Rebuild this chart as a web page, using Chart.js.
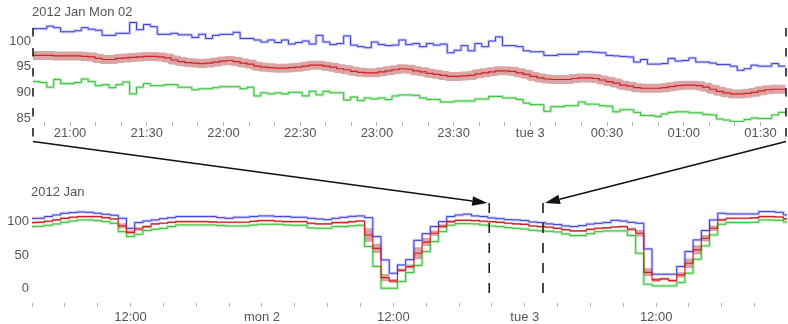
<!DOCTYPE html>
<html><head><meta charset="utf-8">
<script src="https://cdn.jsdelivr.net/npm/chart.js@4.4.1/dist/chart.umd.min.js"></script>
<style>
html,body{margin:0;padding:0;background:#fff;}
#wrap{position:relative;width:788px;height:324px;overflow:hidden;background:#fff;}
canvas{position:absolute;left:0;}
</style></head><body>
<div id="wrap">
<canvas id="topC" width="788" height="150" style="top:0px"></canvas>
<canvas id="botC" width="788" height="154" style="top:170px"></canvas>
<canvas id="ovC" width="788" height="324" style="top:0px;pointer-events:none"></canvas>
</div>
<script>
// ---------- top (zoomed) chart data: minutes from 2012-01-02 00:00 ----------
const topTitle = '2012 Jan Mon 02';
const topStart = 1245.5, topStep = 2.7, topEnd = 1540;
const topBlue = [102.4,102.4,102.9,102.6,101.8,101.8,102.0,102.6,102.3,102.1,
 101.1,101.1,101.5,101.5,103.6,102.2,103.2,102.8,101.3,101.3,
 101.5,101.2,101.2,100.7,101.3,100.5,101.1,101.3,101.3,101.7,
 100.5,100.5,100.2,99.8,100.2,99.7,100.2,99.4,99.7,100.0,
 99.4,101.1,99.8,99.3,99.5,101.0,99.2,98.9,98.7,99.8,
 99.3,99.1,99.2,100.2,99.3,99.5,98.9,99.5,99.2,99.4,
 97.7,98.2,99.1,98.1,99.5,98.9,100.0,100.8,99.1,99.1,
 98.9,98.1,97.9,97.9,97.2,97.2,97.4,97.4,97.4,97.9,
 97.9,97.8,97.7,97.2,97.1,97.0,96.9,95.9,96.4,95.5,
 95.5,95.6,96.6,96.1,96.2,96.7,95.9,95.9,95.7,95.4,
 95.4,95.1,94.3,94.6,95.3,95.1,95.1,95.6,95.1];
const topRed = [97.2,97.2,97.2,97.1,97.1,97.1,97.1,97.0,96.9,96.6,
 96.4,96.4,96.6,96.7,96.8,96.9,97.0,97.0,96.9,96.7,
 96.3,96.0,95.8,95.7,95.6,95.7,95.9,96.1,96.2,96.0,
 95.7,95.5,95.1,94.9,94.8,94.7,94.7,94.8,94.9,95.1,
 95.3,95.3,95.1,94.9,94.6,94.4,94.1,93.9,93.8,93.8,
 94.0,94.2,94.4,94.6,94.5,94.2,94.0,93.7,93.5,93.3,
 93.1,93.1,93.2,93.3,93.6,93.8,94.0,94.2,94.2,94.1,
 93.8,93.5,93.1,92.8,92.6,92.5,92.5,92.5,92.7,92.8,
 92.8,92.7,92.4,92.1,91.8,91.4,91.2,90.9,90.8,90.8,
 90.8,90.9,91.1,91.3,91.4,91.4,91.3,91.0,90.6,90.2,
 89.9,89.7,89.7,89.8,90.0,90.3,90.5,90.6,90.6];
const topGreen = [92.1,91.9,91.0,92.5,91.7,91.7,91.9,92.6,92.1,91.3,
 91.5,90.9,91.5,92.0,89.7,91.0,91.7,91.3,91.3,91.5,
 91.5,91.0,91.0,90.5,90.7,90.7,90.9,91.1,91.1,91.1,
 90.7,91.0,89.3,89.9,89.7,89.9,89.7,90.0,90.0,89.3,
 90.2,89.5,90.2,89.9,89.9,88.5,89.1,88.4,88.9,88.7,
 88.9,88.6,89.3,89.5,89.5,89.4,88.9,88.6,88.6,88.1,
 88.1,88.3,88.3,88.3,88.7,88.7,89.2,89.2,88.9,88.9,
 88.6,87.9,87.6,87.6,86.3,87.2,87.2,87.4,87.4,88.1,
 87.7,87.7,87.4,87.3,86.2,86.6,86.6,86.1,85.5,85.5,
 85.3,85.8,86.1,86.2,86.2,86.0,86.0,85.7,85.6,84.8,
 84.6,84.3,84.3,84.7,85.0,84.9,84.9,85.6,86.1];
const topYTicks = [85, 90, 95, 100];
const topXTicks = [];
for (let m = 1250; m < topEnd; m += 10) topXTicks.push(m);

// ---------- bottom (overview) chart data: hours from 2012-01-01 00:00 ----------
const botTitle = '2012 Jan';
const botStart = 2.625, botStep = 0.75, botMin = 3, botMax = 71.95;
const botBlue = [105,105.1,107.6,110,112.6,113.6,114.6,114,112.6,111,
 109.6,105,90,98.6,101,102.6,104.5,106,107.6,107.6,
 107.6,107.6,107.6,106,105,106.6,106.6,107.6,108.6,108.6,
 107.6,107.6,106.6,106.6,105,104,103,105,106.5,108,
 108.6,106,77.6,42.6,22.6,35,43,72,82,92.6,
 100,107.6,110,111.3,108.6,107.6,105.5,104.5,103,102.6,
 101.6,99.5,98.6,96.6,95.6,93.6,92.6,94,96.3,97.5,
 98.6,102,101,99,97.6,59.1,21.1,21.1,21.1,32.6,
 55.1,72.6,86.6,102.6,112.6,111.6,111.6,111.6,111.6,115.1,
 115.1,114,110.1];
const botRed = [98.6,99,100.6,102.6,105,106.6,107.6,107.6,107.6,106,
 104,93.6,84,89,92.6,96.6,97.6,99,100.1,100.1,
 100.1,100.1,99.6,99.1,99.1,99.1,99.1,100.5,101.6,101.6,
 100.6,100.1,100.1,100.1,97.6,96.6,96.6,98.6,98.6,100,
 101,80,60,16,11,27,32.6,52.6,69.3,82.6,
 93,100,102,102,101.6,100.6,100,99,97.6,96.6,
 96,93.5,92.6,91.6,90,88,86.1,86.1,88.5,90.1,
 90.6,92,92.6,88.6,82.6,24,12.6,14.1,11.6,20.1,
 37.6,57.6,75.1,90.1,102.6,105.1,105.1,105.1,105.6,107.6,
 107.6,107,104.1];
const botGreen = [92.6,93,94.6,96.6,99,101,102.6,102.6,101.6,100,
 97.6,85,77.6,81,86.6,88.6,90,92.6,95.1,95.1,
 95.1,95.1,95.1,94.3,93.6,93.6,93.6,95,96.1,96.1,
 96.1,95.1,94.6,94.6,90.6,90.1,90.1,92.6,92.6,93.6,
 94.6,62.6,32.6,0,0,10,23.6,34.3,55,70,
 85,94.6,97,97,96.6,95,93.5,92.6,91,90,
 89,87,86.1,85.5,84.5,81.6,79.1,79.1,82,85,
 86.1,86.1,86.1,79.1,52.6,6.1,3.6,3.6,3.6,8.6,
 22.6,43.6,63.6,80.1,96.1,98.6,98.6,98.6,99,102.6,
 102.6,102,99.6];
const botRedSpread = [1.5,1.5,1.5,1.5,1.5,1.5,1.5,1.5,1.5,1.5,
 1.5,4,3,2.5,2,1.5,1.5,1.5,1.5,1.5,
 1.5,1.5,1.5,1.5,1.5,1.5,1.5,1.5,1.5,1.5,
 1.5,1.5,1.5,1.5,2,1.5,1.5,1.5,1.5,1.5,
 1.5,10,7,5.5,3,2.5,3,9,6,4,
 3,2,1.5,1.5,1.5,1.5,1.5,1.5,1.5,1.5,
 1.5,1.5,1.5,1.5,1.5,1.5,1.5,1.5,1.5,1.5,
 1.5,1.5,1.5,2.5,5,6,3,2,2,4,
 7,7,5,4,2,1.5,1.5,1.5,1.5,1.5,
 1.5,1.5,1.5];
const botYTicks = [0, 50, 100];
const botXTicks = [];
for (let h = 3; h < 72; h += 3) botXTicks.push(h);
const dayLabels = {24: 'mon 2', 48: 'tue 3'};

// ---------- helpers ----------
const FONT = "'Liberation Sans', Arial, Helvetica, sans-serif";
const TEXT = '#555';
const pts = (arr, start, step) => arr.map((v, i) => ({x: start + i * step, y: v}))
  .concat([{x: start + arr.length * step, y: arr[arr.length - 1]}]);
const pad2 = n => (n < 10 ? '0' : '') + n;
function topLabel(v) {
  if (v % 30 !== 0) return '';
  const m = v % 1440;
  if (m === 0) return 'tue 3';
  return pad2(Math.floor(m / 60)) + ':' + pad2(m % 60);
}
function botLabel(v) {
  if (v % 12 !== 0) return '';
  if (v % 24 === 0) return dayLabels[v] || '';
  return '12:00';
}
const cornerTitle = {
  id: 'cornerTitle',
  afterDraw(chart, args, opts) {
    const c = chart.ctx; c.save();
    c.font = '13px ' + FONT; c.fillStyle = TEXT;
    c.textBaseline = 'middle'; c.textAlign = 'left';
    c.fillText(opts.text, chart.chartArea.left - 1, opts.y);
    c.restore();
  }
};
function lineDs(data, color, width, order, extra) {
  return Object.assign({data, borderColor: color, borderWidth: width, stepped: true,
    pointRadius: 0, fill: false, order, clip: 0, tension: 0}, extra || {});
}
function xAxis(min, max, ticksArr, cb, h, padding) {
  return {type: 'linear', min, max,
    afterBuildTicks: s => { s.ticks = ticksArr.map(v => ({value: v})); },
    afterFit: s => { s.height = h; },
    ticks: {callback: cb, autoSkip: false, maxRotation: 0, minRotation: 0, padding,
      font: {family: FONT, size: 13}, color: TEXT},
    grid: {drawOnChartArea: false, drawTicks: true, tickLength: 4, color: '#b5b5b5'},
    border: {display: false}};
}
function yAxis(min, max, ticksArr, w, padding) {
  return {type: 'linear', min, max,
    afterBuildTicks: s => { s.ticks = ticksArr.map(v => ({value: v})); },
    afterFit: s => { s.width = w; },
    ticks: {padding, font: {family: FONT, size: 13}, color: TEXT},
    grid: {display: false, drawTicks: false},
    border: {display: false}};
}
const common = {responsive: false, animation: false, events: [],
  plugins: {legend: {display: false}, tooltip: {enabled: false}}};
const roundJoin = {borderJoinStyle: 'round', borderCapStyle: 'butt'};

// ---------- top chart ----------
const topChart = new Chart(document.getElementById('topC'), {
  type: 'line',
  data: {datasets: [
    lineDs(pts(topRed, topStart, topStep), '#d42020', 1.2, 0),
    lineDs(pts(topBlue, topStart, topStep), '#3a3ad6', 1, 1),
    lineDs(pts(topGreen, topStart, topStep), '#36bf36', 1, 2),
    lineDs(pts(topRed, topStart, topStep), 'rgba(165,30,30,0.4)', 9, 5, roundJoin),
    lineDs(pts(topBlue, topStart, topStep), 'rgba(90,90,230,0.28)', 3, 6),
    lineDs(pts(topGreen, topStart, topStep), 'rgba(60,200,60,0.3)', 3, 6)
  ]},
  options: Object.assign({}, common, {
    layout: {padding: {top: 21, right: 2, bottom: 0, left: 0}},
    scales: {x: xAxis(topStart, topEnd, topXTicks, topLabel, 28, 0),
             y: yAxis(84.22, 103.9, topYTicks, 33, 2)},
    plugins: Object.assign({}, common.plugins, {cornerTitle: {text: topTitle, y: 12}})
  }),
  plugins: [cornerTitle]
});

// ---------- bottom chart ----------
const botChart = new Chart(document.getElementById('botC'), {
  type: 'line',
  data: {datasets: [
    lineDs(pts(botRed, botStart, botStep), '#d42020', 1.2, 0),
    lineDs(pts(botBlue, botStart, botStep), '#3a3ad6', 1, 1),
    lineDs(pts(botGreen, botStart, botStep), '#36bf36', 1, 2),
    lineDs(pts(botRed.map((v, i) => v + botRedSpread[i]), botStart, botStep), 'rgba(0,0,0,0)', 1, 4,
      {fill: '+1', backgroundColor: 'rgba(165,30,30,0.4)'}),
    lineDs(pts(botRed.map((v, i) => v - botRedSpread[i]), botStart, botStep), 'rgba(0,0,0,0)', 1, 4),
    lineDs(pts(botBlue, botStart, botStep), 'rgba(90,90,230,0.28)', 3, 6),
    lineDs(pts(botGreen, botStart, botStep), 'rgba(60,200,60,0.3)', 3, 6)
  ]},
  options: Object.assign({}, common, {
    layout: {padding: {top: 35, right: 1, bottom: 0, left: 0}},
    scales: {x: xAxis(botMin, botMax, botXTicks, botLabel, 21, 3),
             y: yAxis(-22.1, 125, botYTicks, 32, 3)},
    plugins: Object.assign({}, common.plugins, {cornerTitle: {text: botTitle, y: 22.5}})
  }),
  plugins: [cornerTitle]
});

// ---------- overlay: zoom window markers and arrows ----------
(function drawOverlay() {
  const ov = document.getElementById('ovC');
  const ctx = ov.getContext('2d');
  const ta = topChart.chartArea;
  const ba = botChart.chartArea;
  const bOff = 170;
  const bx = botChart.scales.x;
  const xa = bx.getPixelForValue(24 + topStart / 60);
  const xb = bx.getPixelForValue(24 + topEnd / 60);
  const seg = (x1, y1, x2, y2) => { ctx.beginPath(); ctx.moveTo(x1, y1); ctx.lineTo(x2, y2); ctx.stroke(); };
  ctx.strokeStyle = '#111'; ctx.fillStyle = '#111'; ctx.lineWidth = 1.5;
  const tTop = ta.top + 7, tBot = ta.bottom + 19;
  ctx.setLineDash([8.5, 11.5]);
  seg(ta.left, tTop, ta.left, tBot);
  seg(ta.right, tTop, ta.right, tBot);
  const bTop = bOff + ba.top - 2, bBot = bOff + ba.bottom - 6;
  ctx.setLineDash([10, 10]);
  seg(xa, bTop, xa, bBot);
  seg(xb, bTop, xb, bBot);
  ctx.setLineDash([]);
  function arrow(x1, y1, x2, y2) {
    const ang = Math.atan2(y2 - y1, x2 - x1), L = 15, W = 4.8;
    const bxp = x2 - L * Math.cos(ang), byp = y2 - L * Math.sin(ang);
    seg(x1, y1, bxp, byp);
    ctx.beginPath();
    ctx.moveTo(x2, y2);
    ctx.lineTo(bxp + W * Math.sin(ang), byp - W * Math.cos(ang));
    ctx.lineTo(bxp - W * Math.sin(ang), byp + W * Math.cos(ang));
    ctx.closePath(); ctx.fill();
  }
  arrow(ta.left, tBot + 0.5, xa - 2, bTop);
  arrow(ta.right, tBot + 0.5, xb + 2, bTop);
})();
</script>
</body></html>
